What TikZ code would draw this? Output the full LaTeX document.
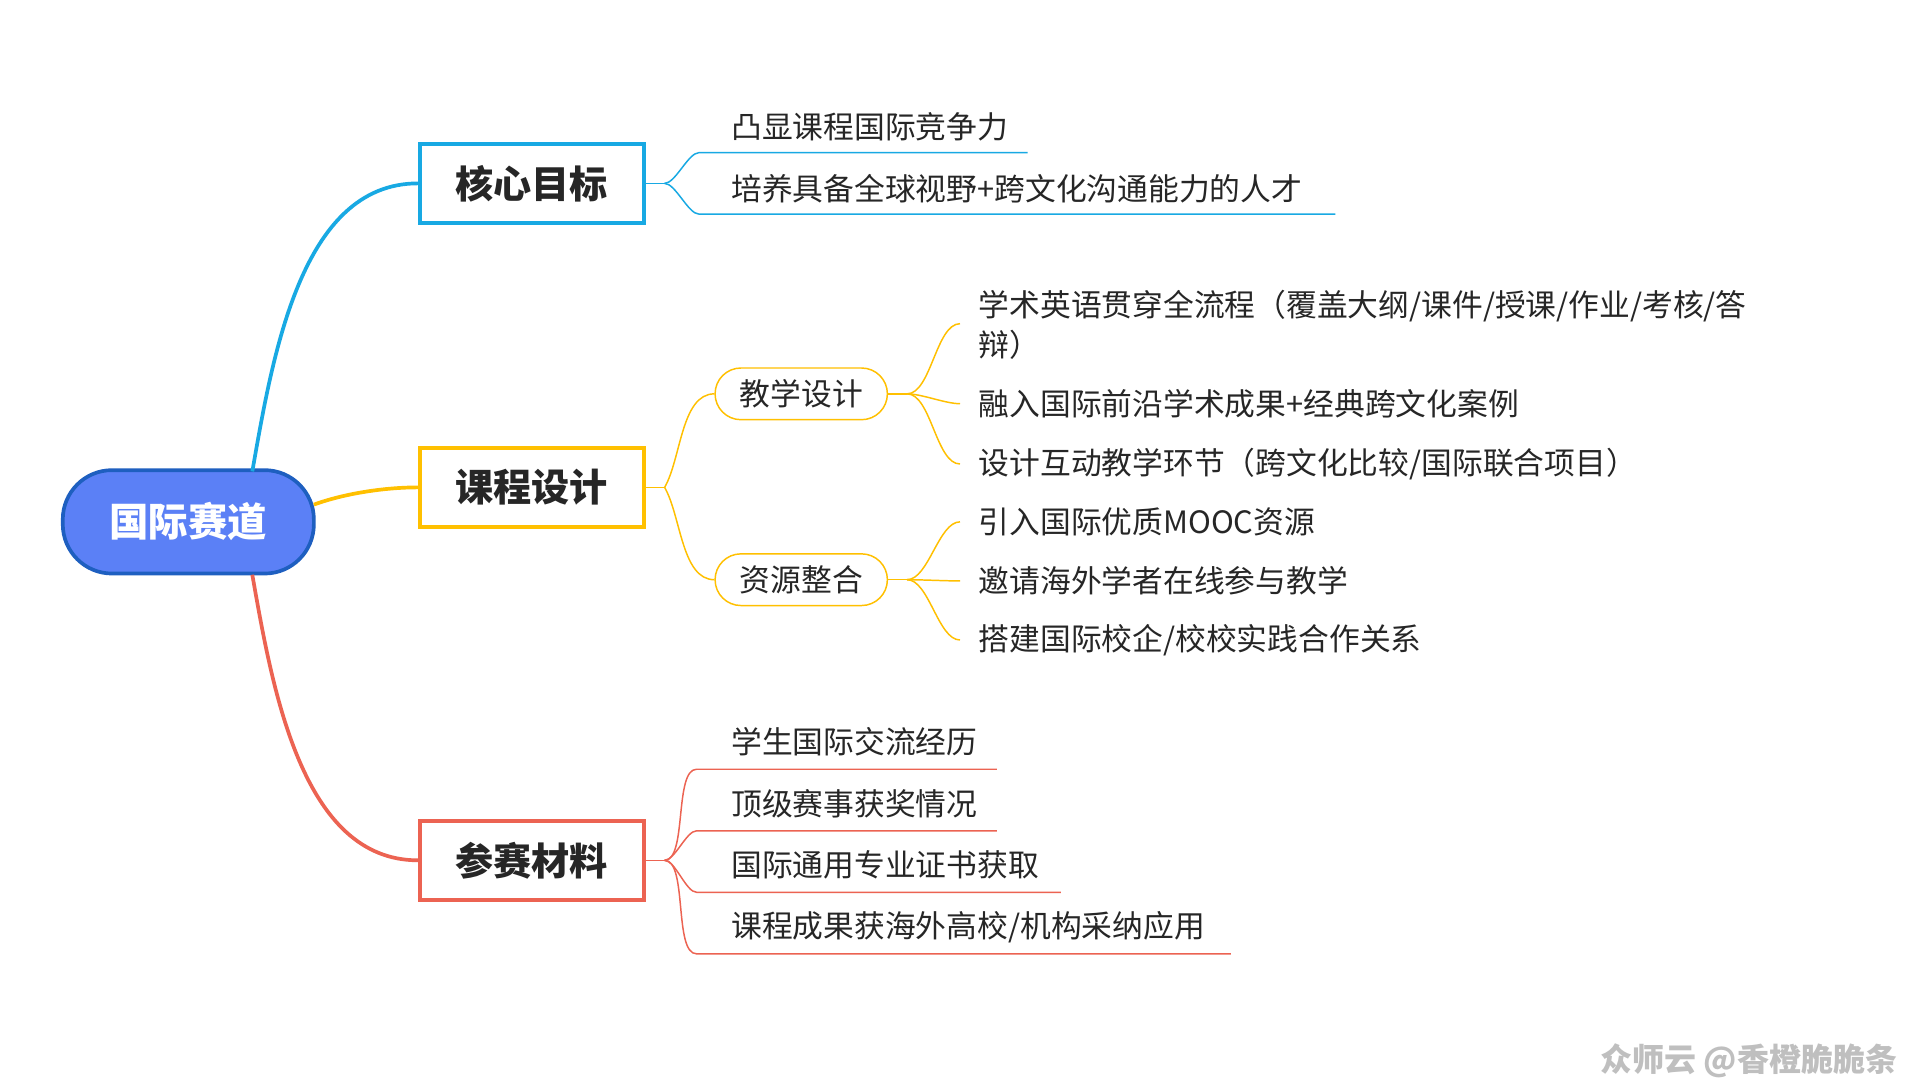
\documentclass[tikz,border=0pt]{standalone}
\usepackage{fontspec}
\setmainfont{Noto Sans CJK SC}
\definecolor{cb}{HTML}{18A9E3}
\definecolor{cy}{HTML}{FFC000}
\definecolor{cr}{HTML}{EC6352}
\definecolor{rootf}{HTML}{5B80F6}
\definecolor{rootd}{HTML}{1E5FC0}
\begin{document}
\begin{tikzpicture}[x=1pt,y=-1pt,
  main/.style={draw,line width=3pt,minimum width=182pt,minimum height=64pt,font=\fontsize{31}{36}\selectfont\bfseries,text=black!85},
  sub/.style={draw=cy,line width=1.2pt,rounded corners=21pt,minimum width=140pt,minimum height=42pt,font=\fontsize{25}{28}\selectfont,text=black!85},
  leaf/.style={anchor=west,font=\fontsize{25}{28}\selectfont,text=black!85,inner sep=0pt},
  br/.style={line width=1.2pt}]
\useasboundingbox (0,0) rectangle (1560,878);
\fill[white] (0,0) rectangle (1560,878);
% root and main nodes
\node[draw=rootd,fill=rootf,line width=3pt,rounded corners=40pt,minimum width=204pt,minimum height=84pt,text=white,font=\fontsize{32}{38}\selectfont\bfseries] (root) at (153,424) {国际赛道};
\node[main,draw=cb] (m1) at (432,149) {核心目标};
\node[main,draw=cy] (m2) at (432,396) {课程设计};
\node[main,draw=cr] (m3) at (432,699) {参赛材料};
\coordinate (r1) at (205,383);
\coordinate (r2) at (255,410);
\coordinate (r3) at (205,467);
\draw[cb,line width=3pt] (r1) to[out=80,in=180,looseness=0.9] (m1.west);
\draw[cy,line width=3pt] (r2) to[out=20,in=180,looseness=0.8] (m2.west);
\draw[cr,line width=3pt] (r3) to[out=-80,in=180,looseness=0.9] (m3.west);
% core goal
\coordinate (b1) at (540,149);
\draw[cb,br] (m1.east) -- (b1);
\node[leaf] (l11) at (594,103) {凸显课程国际竞争力};
\node[leaf] (l12) at (594,153) {培养具备全球视野+跨文化沟通能力的人才};
\coordinate (u11) at (568,124); \coordinate (e11) at (835,124);
\coordinate (u12) at (568,174); \coordinate (e12) at (1085,174);
\draw[cb,br] (b1) to[out=0,in=180,looseness=0.6] (u11) -- (e11);
\draw[cb,br] (b1) to[out=0,in=180,looseness=0.6] (u12) -- (e12);
% course design
\coordinate (b2) at (540,396);
\draw[cy,br] (m2.east) -- (b2);
\node[sub] (s1) at (651,320) {教学设计};
\node[sub] (s2) at (651,471) {资源整合};
\draw[cy,br] (b2) to[out=60,in=180,looseness=0.8] (s1.west);
\draw[cy,br] (b2) to[out=-60,in=180,looseness=0.8] (s2.west);
\coordinate (c1) at (737,320);
\coordinate (c2) at (737,471);
\draw[cy,br] (s1.east) -- (c1);
\draw[cy,br] (s2.east) -- (c2);
\node[leaf,align=left,font=\fontsize{25}{33}\selectfont] (t1) at (795,264) {学术英语贯穿全流程（覆盖大纲/课件/授课/作业/考核/答\\辩）};
\node[leaf] (t2) at (795,328) {融入国际前沿学术成果+经典跨文化案例};
\node[leaf] (t3) at (795,377) {设计互动教学环节（跨文化比较/国际联合项目）};
\node[leaf] (t4) at (795,424) {引入国际优质MOOC资源};
\node[leaf] (t5) at (795,472) {邀请海外学者在线参与教学};
\node[leaf] (t6) at (795,520) {搭建国际校企/校校实践合作关系};
\coordinate (p1) at (780,263); \coordinate (p2) at (780,328); \coordinate (p3) at (780,377);
\coordinate (p4) at (780,424); \coordinate (p5) at (780,472); \coordinate (p6) at (780,520);
\foreach \p in {p1,p2,p3} \draw[cy,br] (c1) to[out=0,in=180,looseness=0.7] (\p);
\foreach \p in {p4,p5,p6} \draw[cy,br] (c2) to[out=0,in=180,looseness=0.7] (\p);
% materials
\coordinate (b3) at (540,699);
\draw[cr,br] (m3.east) -- (b3);
\node[leaf] (k1) at (594,603) {学生国际交流经历};
\node[leaf] (k2) at (594,653) {顶级赛事获奖情况};
\node[leaf] (k3) at (594,703) {国际通用专业证书获取};
\node[leaf] (k4) at (594,753) {课程成果获海外高校/机构采纳应用};
\coordinate (v1) at (566,625); \coordinate (w1) at (810,625);
\coordinate (v2) at (566,675); \coordinate (w2) at (810,675);
\coordinate (v3) at (566,725); \coordinate (w3) at (862,725);
\coordinate (v4) at (566,775); \coordinate (w4) at (1000,775);
\foreach \i in {1,2,3,4} \draw[cr,br] (b3) to[out=0,in=180,looseness=0.6] (v\i) -- (w\i);
% watermark
\node[anchor=east,text=black!25,font=\fontsize{26}{30}\selectfont\bfseries] (wm) at (1545,862) {众师云 @香橙脆脆条};
\end{tikzpicture}
\end{document}
